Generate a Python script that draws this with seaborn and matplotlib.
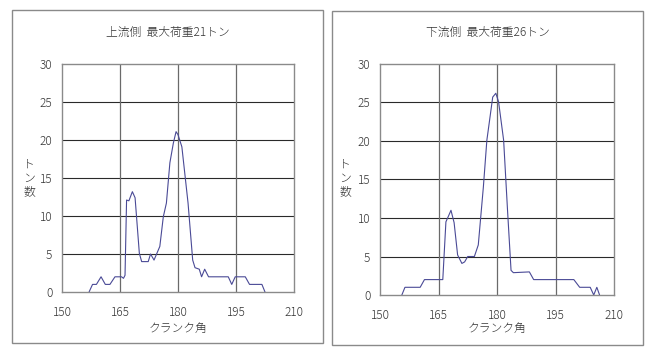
import matplotlib
matplotlib.use('Agg')
import matplotlib.pyplot as plt
import seaborn as sns
from matplotlib.patches import Rectangle

# data: crank angle (deg) vs load (ton)
ang_up = [157.0, 157.9, 158.9, 160.1, 161.2, 162.4, 163.7, 165.4, 165.9, 166.3, 166.7,
          167.3, 168.2, 168.9, 170.0, 170.6, 172.3, 172.9, 173.8, 175.3, 176.2, 177.0,
          177.9, 178.8, 179.5, 180.0, 181.0, 182.6, 183.8, 184.4, 185.5, 186.1, 186.9,
          187.9, 193.0, 193.9, 194.8, 197.4, 198.5, 201.7, 202.5]
ton_up = [0, 1, 1, 2, 1, 1, 2, 2, 1.8, 2.2, 12.1,
          12, 13.2, 12.4, 5.1, 4, 4, 5, 4.2, 6, 9.9, 11.7,
          17, 19.6, 21.1, 20.7, 19.1, 11.7, 4.2, 3.2, 3, 2, 3,
          2, 2, 1, 2, 2, 1, 1, 0]

ang_dn = [155.6, 156.4, 159.8, 160.3, 161.4, 165.7, 166.1, 166.9, 167.6, 168.2, 169.0,
          169.9, 171.0, 171.7, 172.5, 174.2, 175.2, 176.5, 177.4, 178.1, 178.9, 179.7,
          180.4, 181.7, 182.7, 183.6, 184.2, 188.3, 189.4, 199.7, 201.2, 203.9, 204.8,
          205.6, 206.3]
ton_dn = [0, 1, 1, 1, 2, 2, 2, 9.5, 10.3, 11, 9.4,
          5.2, 4.1, 4.3, 5, 5, 6.5, 14, 20.1, 22.7, 25.7, 26.2,
          25.1, 20.1, 11, 3.2, 2.9, 3, 2, 2, 1, 1, 0,
          1, 0]

titles = ['上流側  最大荷重21トン', '下流側  最大荷重26トン']
xticks = [150, 165, 180, 195, 210]
yticks = [0, 5, 10, 15, 20, 25, 30]

sns.set_theme(style='white')
plt.rcParams['font.family'] = ['Noto Sans CJK JP', 'DejaVu Sans']
plt.rcParams['font.weight'] = 'light'

W, H = 655, 357
fig = plt.figure(figsize=(W / 100, H / 100), dpi=100)
fig.patch.set_facecolor('white')
txt = '#333333'

# pixel boxes (left, top, right, bottom)
panels = [
    dict(box=(12, 10, 323, 343), ax=(62, 64, 294, 292), x=ang_up, y=ton_up, ylab_x=29),
    dict(box=(332, 11, 643, 345), ax=(380, 64, 614, 295), x=ang_dn, y=ton_dn, ylab_x=345),
]

for p, title in zip(panels, titles):
    bl, bt, br, bb = p['box']
    fig.patches.append(Rectangle((bl / W, 1 - bb / H), (br - bl) / W, (bb - bt) / H,
                                 transform=fig.transFigure, fill=False,
                                 edgecolor='#8a8a8a', linewidth=1.0))
    al, at, ar, ab = p['ax']
    ax = fig.add_axes([al / W, 1 - ab / H, (ar - al) / W, (ab - at) / H])
    sns.lineplot(x=p['x'], y=p['y'], ax=ax, color='#4a4a96', linewidth=0.8)
    ax.set_xlim(150, 210)
    ax.set_ylim(0, 30)
    ax.set_xticks(xticks)
    ax.set_yticks(yticks)
    ax.tick_params(labelsize=8.5, colors=txt, length=0)
    ax.tick_params(axis='x', pad=10)
    ax.tick_params(axis='y', pad=7)
    ax.grid(False)
    for t in yticks[1:-1]:
        ax.axhline(t, color='#2a2a2a', linewidth=0.8, zorder=0)
    for t in xticks[1:-1]:
        ax.axvline(t, color='#6a6a6a', linewidth=0.9, zorder=0)
    for s in ax.spines.values():
        s.set_color('#8a8a8a')
        s.set_linewidth(1.0)
    ax.set_xlabel('')
    ax.set_ylabel('')
    fig.text((bl + br) / 2 / W, 1 - 32 / H, title, ha='center', va='center',
             fontsize=8.5, color=txt)
    fig.text((al + ar) / 2 / W, 1 - 328 / H, 'クランク角', ha='center', va='center',
             fontsize=8.5, color=txt)
    fig.text(p['ylab_x'] / W, 1 - 178 / H, 'ト\nン\n数', ha='center', va='center',
             fontsize=8.5, color=txt, linespacing=1.1)

fig.savefig('out.png', dpi=100)
